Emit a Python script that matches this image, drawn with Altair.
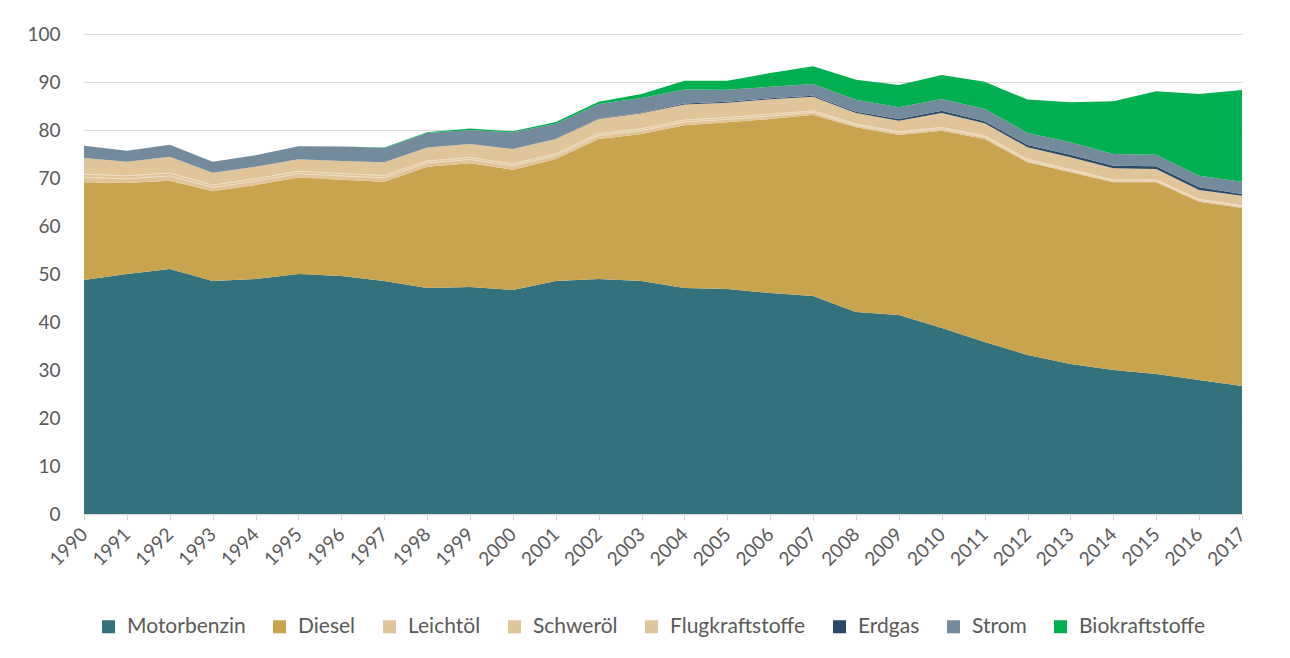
import altair as alt
import pandas as pd

years = list(range(1990, 2018))

motorbenzin = [48.75, 50.0, 51.04, 48.54, 48.96, 50.0, 49.58, 48.54, 47.08, 47.29,
               46.67, 48.54, 48.96, 48.54, 47.08, 46.88, 46.04, 45.42, 42.08, 41.46,
               38.75, 35.83, 33.13, 31.25, 30.0, 29.17, 27.92, 26.67]
diesel = [20.35, 18.96, 18.4, 18.69, 19.58, 20.1, 20.06, 20.69, 25.27, 25.77,
          25.06, 25.42, 29.17, 30.63, 33.9, 34.73, 36.25, 37.77, 38.48, 37.5,
          41.1, 42.29, 40.15, 39.94, 39.1, 39.94, 37.15, 37.08]
leichtoel = [1.0, 0.9, 1.0, 0.8, 0.8, 0.8, 0.8, 0.8, 0.8, 0.8,
             0.8, 0.7, 0.7, 0.7, 0.7, 0.6, 0.6, 0.5, 0.4, 0.4,
             0.4, 0.4, 0.3, 0.3, 0.3, 0.3, 0.3, 0.3]
schweroel = [0.7, 0.6, 0.6, 0.5, 0.5, 0.5, 0.5, 0.5, 0.4, 0.4,
             0.4, 0.4, 0.4, 0.4, 0.4, 0.4, 0.4, 0.3, 0.3, 0.3,
             0.3, 0.3, 0.3, 0.3, 0.2, 0.2, 0.2, 0.2]
flugkraftstoffe = [3.36, 2.94, 3.4, 2.58, 2.5, 2.5, 2.6, 2.74, 2.82, 2.82,
                   3.11, 3.07, 3.07, 3.21, 3.23, 3.08, 3.1, 2.95, 2.28, 2.28,
                   2.99, 2.57, 2.53, 2.53, 2.42, 2.27, 1.94, 2.06]
erdgas = [0.0, 0.0, 0.0, 0.0, 0.0, 0.0, 0.0, 0.0, 0.0, 0.0,
          0.0, 0.05, 0.1, 0.1, 0.2, 0.2, 0.2, 0.2, 0.27, 0.35,
          0.48, 0.42, 0.48, 0.54, 0.54, 0.56, 0.56, 0.35]
strom = [2.56, 2.29, 2.5, 2.29, 2.4, 2.7, 3.0, 2.98, 2.98, 2.92,
         3.48, 3.13, 3.0, 3.08, 2.92, 2.5, 2.42, 2.44, 2.5, 2.44,
         2.44, 2.56, 2.5, 2.58, 2.44, 2.42, 2.42, 2.56]
biokraftstoffe = [0.0, 0.0, 0.0, 0.0, 0.0, 0.0, 0.0, 0.1, 0.2, 0.3,
                  0.2, 0.35, 0.48, 0.83, 1.83, 1.88, 2.85, 3.69, 4.17, 4.65,
                  5.0, 5.69, 6.94, 8.33, 10.98, 13.21, 17.02, 19.1]

series_names = ["Motorbenzin", "Diesel", "Leichtöl", "Schweröl", "Flugkraftstoffe",
                "Erdgas", "Strom", "Biokraftstoffe"]
series_values = [motorbenzin, diesel, leichtoel, schweroel, flugkraftstoffe,
                 erdgas, strom, biokraftstoffe]
colors = ["#33727C", "#C9A44E", "#E0C59A", "#E0C59A", "#E0C59A",
          "#2B4A68", "#748B9D", "#00B050"]

rows = []
for i, (name, vals) in enumerate(zip(series_names, series_values)):
    for y, v in zip(years, vals):
        rows.append({"Jahr": y, "Kraftstoff": name, "Wert": v, "idx": i})
df = pd.DataFrame(rows)

# separator lines between the light beige layers (tops of Leichtöl and Schweröl)
sep_rows = []
for j, y in enumerate(years):
    base = motorbenzin[j] + diesel[j]
    sep_rows.append({"Jahr": y, "grp": "a", "top": base + leichtoel[j]})
    sep_rows.append({"Jahr": y, "grp": "b", "top": base + leichtoel[j] + schweroel[j]})
sep = pd.DataFrame(sep_rows)

font = "Lato"

x_enc = alt.X("Jahr:Q",
              scale=alt.Scale(domain=[1990, 2017], nice=False, zero=False),
              axis=alt.Axis(values=years, format="d", title=None, grid=False,
                            labelAngle=-45, labelAlign="right", labelBaseline="middle",
                            labelFontSize=19, labelColor="#595959", labelFont=font,
                            labelPadding=11, tickColor="#D9D9D9", tickSize=6,
                            domainColor="#D9D9D9", domainWidth=1.5, labelOverlap=False))

areas = alt.Chart(df).mark_area(opacity=1).encode(
    x=x_enc,
    y=alt.Y("Wert:Q", stack="zero",
            scale=alt.Scale(domain=[0, 100]),
            axis=alt.Axis(values=list(range(0, 101, 10)), title=None, domain=False,
                          ticks=False, gridColor="#D9D9D9", gridWidth=1.2,
                          labelFontSize=19, labelColor="#595959", labelFont=font,
                          labelPadding=24)),
    color=alt.Color("Kraftstoff:N",
                    scale=alt.Scale(domain=series_names, range=colors),
                    sort=series_names,
                    legend=alt.Legend(title=None, orient="none", direction="horizontal",
                                      legendX=14, legendY=582,
                                      symbolType="square", symbolSize=170,
                                      symbolStrokeWidth=0, labelFontSize=21,
                                      labelColor="#595959", labelFont=font,
                                      columnPadding=23, symbolOffset=0, padding=0,
                                      labelOffset=8, labelLimit=300)),
    order=alt.Order("idx:Q", sort="ascending"),
)

lines = alt.Chart(sep).mark_line(color="#EEDFC6", strokeWidth=1).encode(
    x="Jahr:Q",
    y="top:Q",
    detail="grp:N",
)

chart = alt.layer(areas, lines).properties(
    width=1158, height=480,
    padding={"left": 18, "top": 17, "right": 30, "bottom": 5},
).configure_view(stroke=None)

chart.save("out.html", embed_options={"renderer": "svg", "actions": False})
